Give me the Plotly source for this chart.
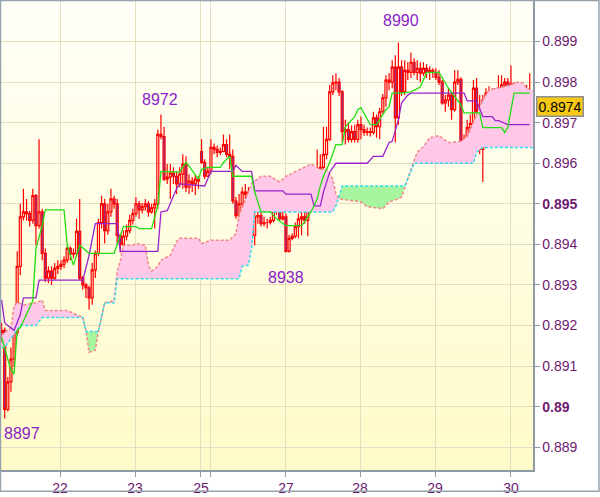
import numpy as np
import plotly.graph_objects as go

# ---------------- data (prices in pips, 1 pip = 0.0001) ----------------
close_pips = [
    8918.8, 8899.3, 8906.1, 8911.7, 8918.3, 8934.6, 8946.8, 8948.0, 8947.6, 8945.9,
    8952.0, 8944.6, 8948.0, 8937.8, 8931.7, 8933.4, 8931.7, 8934.1, 8934.6, 8935.1,
    8936.1, 8939.0, 8937.6, 8937.8, 8943.2, 8931.7, 8930.0, 8929.3, 8926.8, 8933.7,
    8937.8, 8945.4, 8950.0, 8943.4, 8948.0, 8951.2, 8950.0, 8942.2, 8940.0, 8942.0,
    8943.4, 8945.9, 8947.6, 8950.0, 8948.5, 8949.3, 8950.0, 8948.0, 8949.0, 8950.0,
    8967.1, 8966.6, 8956.1, 8956.6, 8957.6, 8956.8, 8954.9, 8957.3, 8959.8, 8954.1,
    8955.6, 8954.9, 8956.1, 8955.6, 8960.2, 8956.8, 8958.0, 8963.9, 8963.4, 8962.7,
    8962.9, 8964.6, 8962.2, 8961.7, 8950.7, 8947.1, 8950.0, 8952.9, 8952.4, 8952.9,
    8942.2, 8946.8, 8947.1, 8945.1, 8945.4, 8945.4, 8945.9, 8948.8, 8948.3, 8946.3,
    8946.8, 8938.3, 8941.5, 8942.0, 8944.4, 8946.3, 8946.8, 8945.9, 8952.0, 8955.6,
    8954.9, 8957.3, 8959.0, 8962.2, 8965.9, 8977.6, 8979.8, 8980.0, 8977.6, 8967.8,
    8968.3, 8965.9, 8967.8, 8965.9, 8969.5, 8968.3, 8967.6, 8967.8, 8967.6, 8971.2,
    8969.0, 8972.7, 8976.1, 8980.5, 8980.0, 8983.7, 8971.2, 8983.7, 8977.6, 8982.9,
    8982.4, 8984.9, 8982.4, 8983.4, 8982.2, 8983.4, 8982.4, 8982.9, 8982.4, 8981.2,
    8980.0, 8974.9, 8975.6, 8976.8, 8973.2, 8980.0, 8980.7, 8964.6, 8965.9, 8968.8,
    8969.8, 8978.5, 8972.7, 8963.4, 8975.6, 8977.3, 8977.6, 8977.3, 8977.6, 8978.5,
    8979.3, 8980.0, 8978.0, 8979.5, 8975.1, 8974.1, 8975.6, 8976.3, 8977.6, 8973.9]

high_pips = [
    8920.7, 8919.5, 8907.3, 8914.6, 8920.7, 8938.3, 8950.0, 8953.7, 8951.2, 8948.3,
    8953.7, 8952.4, 8965.9, 8948.8, 8939.0, 8934.6, 8934.6, 8935.4, 8936.1, 8936.1,
    8937.1, 8939.5, 8939.5, 8939.0, 8946.3, 8951.2, 8932.2, 8930.5, 8929.8, 8935.4,
    8938.5, 8946.3, 8952.0, 8951.2, 8950.0, 8953.7, 8952.0, 8951.2, 8942.7, 8943.4,
    8944.9, 8947.3, 8948.8, 8951.7, 8950.7, 8950.2, 8951.2, 8950.7, 8950.0, 8951.2,
    8968.3, 8972.0, 8969.0, 8959.8, 8959.8, 8959.0, 8958.0, 8959.0, 8962.2, 8961.7,
    8957.3, 8956.6, 8957.1, 8956.8, 8965.9, 8961.0, 8959.0, 8965.9, 8964.9, 8964.4,
    8963.9, 8967.1, 8965.9, 8967.1, 8963.4, 8951.7, 8952.4, 8954.1, 8954.9, 8954.1,
    8953.7, 8948.3, 8948.8, 8948.3, 8946.8, 8946.3, 8946.8, 8949.3, 8949.3, 8949.3,
    8948.8, 8947.6, 8942.4, 8942.7, 8945.4, 8947.6, 8950.5, 8952.0, 8952.4, 8956.6,
    8957.1, 8963.4, 8962.2, 8969.0, 8969.0, 8979.3, 8981.7, 8982.2, 8981.0, 8978.0,
    8970.7, 8970.2, 8969.3, 8969.5, 8970.7, 8971.5, 8969.5, 8968.8, 8968.8, 8972.7,
    8972.0, 8973.7, 8977.1, 8981.7, 8982.2, 8985.4, 8986.6, 8989.8, 8985.4, 8985.4,
    8984.9, 8987.3, 8985.9, 8985.4, 8984.9, 8984.9, 8984.4, 8983.9, 8983.4, 8983.4,
    8982.9, 8980.5, 8976.8, 8978.5, 8977.6, 8982.9, 8982.9, 8981.2, 8967.1, 8970.7,
    8972.0, 8980.5, 8981.0, 8976.8, 8976.8, 8978.5, 8979.0, 8978.5, 8978.5, 8981.7,
    8981.7, 8981.0, 8981.0, 8984.1, 8980.0, 8976.1, 8976.8, 8977.6, 8979.3, 8982.2]

low_pips = [
    8915.9, 8897.1, 8898.8, 8903.7, 8909.8, 8917.6, 8932.4, 8945.9, 8945.9, 8944.4,
    8945.1, 8939.8, 8943.9, 8936.1, 8930.7, 8930.5, 8930.0, 8931.2, 8932.7, 8933.7,
    8934.1, 8935.4, 8936.1, 8936.6, 8937.1, 8931.2, 8928.8, 8926.8, 8923.9, 8925.1,
    8931.7, 8937.1, 8943.9, 8940.2, 8942.4, 8946.8, 8948.8, 8940.2, 8938.0, 8939.0,
    8941.0, 8942.7, 8944.9, 8946.8, 8946.3, 8947.6, 8948.3, 8946.8, 8947.6, 8943.9,
    8948.8, 8965.9, 8955.6, 8954.9, 8951.2, 8954.9, 8952.4, 8954.1, 8953.7, 8952.9,
    8952.4, 8952.9, 8952.2, 8953.7, 8959.8, 8956.1, 8956.6, 8957.3, 8962.2, 8961.5,
    8962.0, 8962.7, 8961.5, 8958.5, 8950.0, 8946.3, 8946.3, 8948.8, 8951.2, 8948.8,
    8940.2, 8939.8, 8945.1, 8944.4, 8944.4, 8943.9, 8944.9, 8945.4, 8947.3, 8945.9,
    8945.9, 8938.0, 8938.0, 8941.0, 8941.5, 8941.5, 8942.2, 8945.1, 8942.0, 8949.5,
    8953.7, 8954.6, 8956.6, 8958.5, 8961.0, 8965.4, 8976.8, 8978.0, 8976.6, 8965.1,
    8964.6, 8965.1, 8965.1, 8965.1, 8965.1, 8965.9, 8966.8, 8966.8, 8966.6, 8967.1,
    8966.3, 8965.9, 8972.2, 8973.9, 8978.0, 8978.5, 8965.1, 8969.5, 8976.6, 8976.8,
    8980.5, 8981.0, 8981.7, 8980.5, 8980.0, 8981.5, 8981.0, 8980.5, 8981.0, 8980.5,
    8979.3, 8974.4, 8972.7, 8973.9, 8970.7, 8972.7, 8979.3, 8963.9, 8963.9, 8965.4,
    8967.1, 8968.3, 8971.2, 8962.2, 8955.4, 8973.2, 8976.3, 8976.3, 8976.6, 8976.6,
    8977.6, 8978.0, 8977.3, 8977.6, 8974.1, 8973.7, 8973.7, 8973.7, 8973.7, 8971.5]

# bars open at the previous close, except the first bar and the weekly gap bar
open_gaps = {0: 8918.3, 64: 8962.9}

tenkan_idx = [0, 3, 4, 5, 6, 10, 11, 13, 14, 20, 21, 23, 25, 27, 28, 36, 38, 39, 43, 44,
              48, 50, 51, 57, 59, 60, 63, 64, 66, 70, 71, 73, 74, 80, 81, 83, 86, 88, 91, 96,
              97, 99, 101, 102, 103, 105, 107, 109, 110, 113, 114, 115, 118, 120, 123, 124,
              125, 128, 131, 134, 136, 140, 143, 147, 148, 153, 154, 160, 161, 162, 164, 169]
tenkan_pips = [8917.1, 8909.0, 8908.0, 8918.8, 8919.5, 8926.1, 8939.0, 8944.6, 8948.5, 8948.5,
               8939.8, 8934.9, 8939.8, 8938.3, 8937.8, 8937.8, 8942.2, 8944.4, 8944.4, 8943.9,
               8943.9, 8949.5, 8958.0, 8957.8, 8960.2, 8959.3, 8956.1, 8958.5, 8959.0, 8959.0,
               8960.2, 8961.7, 8956.8, 8956.8, 8952.9, 8948.0, 8948.0, 8946.3, 8944.6, 8944.6,
               8945.6, 8948.0, 8951.2, 8954.4, 8956.8, 8960.2, 8964.6, 8964.6, 8969.0, 8971.5,
               8973.2, 8973.7, 8969.5, 8969.5, 8973.2, 8973.9, 8977.3, 8977.3, 8977.6, 8978.8,
               8982.4, 8982.4, 8978.5, 8974.4, 8972.4, 8972.4, 8968.8, 8968.8, 8967.6, 8968.8,
               8977.3, 8977.3]

kijun_idx = [0, 1, 2, 4, 6, 7, 11, 12, 26, 28, 30, 37, 38, 50, 51, 53, 56, 57, 65, 67,
             74, 75, 77, 80, 81, 90, 91, 99, 100, 102, 103, 105, 107, 117, 119, 122, 124, 125,
             127, 128, 130, 131, 148, 149, 152, 154, 157, 158, 159, 162, 169]
kijun_pips = [8926.3, 8920.7, 8920.0, 8918.8, 8922.7, 8926.8, 8926.8, 8931.2, 8931.2, 8937.3,
              8945.1, 8945.1, 8938.3, 8938.3, 8948.0, 8948.3, 8953.7, 8954.9, 8954.4, 8958.0,
              8958.0, 8959.5, 8958.0, 8958.0, 8953.2, 8953.2, 8952.4, 8952.4, 8949.5, 8949.5,
              8952.9, 8957.8, 8960.0, 8960.0, 8961.7, 8961.7, 8965.1, 8965.4, 8970.7, 8974.9,
              8976.8, 8977.3, 8977.3, 8975.4, 8975.4, 8971.5, 8971.5, 8970.5, 8970.5, 8969.5,
              8969.5]

cloud_idx = [0, 1, 3, 4, 5, 6, 7, 8, 11, 13, 14, 21, 26, 27, 28, 30, 31, 33, 36, 37,
             38, 39, 42, 43, 46, 47, 48, 50, 51, 54, 56, 57, 63, 64, 67, 73, 75, 76, 77, 78,
             79, 80, 81, 83, 86, 89, 91, 94, 99, 102, 104, 106, 107, 108, 109, 115, 117, 122,
             124, 127, 128, 129, 131, 132, 133, 135, 137, 140, 143, 147, 149, 151, 152, 154,
             156, 159, 163, 165, 167, 168, 170]
span_a_pips = [8917.6, 8918.3, 8919.5, 8924.9, 8925.6, 8925.4, 8925.1, 8925.2, 8925.6, 8926.3,
               8923.7, 8923.7, 8922.0, 8918.8, 8913.4, 8913.9, 8918.8, 8925.6, 8926.1, 8933.4,
               8935.9, 8939.8, 8939.8, 8940.2, 8939.8, 8934.9, 8933.4, 8934.6, 8936.1, 8937.3,
               8940.7, 8941.5, 8941.5, 8940.2, 8941.0, 8941.0, 8942.7, 8947.1, 8949.1, 8951.2,
               8953.0, 8954.9, 8955.6, 8956.8, 8956.8, 8955.4, 8956.8, 8958.0, 8959.8, 8958.5,
               8958.5, 8956.1, 8952.4, 8951.2, 8951.1, 8950.5, 8949.3, 8948.8, 8950.5, 8951.2,
               8951.7, 8954.1, 8958.5, 8960.7, 8962.7, 8964.1, 8966.3, 8966.8, 8965.1, 8965.4,
               8966.6, 8970.2, 8972.0, 8975.6, 8978.0, 8978.5, 8979.3, 8980.0, 8979.8, 8978.5,
               8977.8]
span_b_pips = [8914.6, 8914.6, 8916.8, 8917.9, 8918.9, 8920.0, 8920.0, 8920.0, 8920.0, 8922.0,
               8922.0, 8922.0, 8922.0, 8918.5, 8918.5, 8918.5, 8918.5, 8925.6, 8925.6, 8931.5,
               8931.5, 8931.5, 8931.5, 8931.5, 8931.5, 8931.5, 8931.5, 8931.5, 8931.5, 8931.5,
               8931.5, 8931.5, 8931.5, 8931.5, 8931.5, 8931.5, 8931.5, 8931.5, 8934.6, 8934.8,
               8934.9, 8939.0, 8948.0, 8948.0, 8948.0, 8948.0, 8948.0, 8948.0, 8948.0, 8948.0,
               8948.0, 8948.0, 8949.5, 8952.0, 8954.4, 8954.4, 8954.4, 8954.4, 8954.4, 8954.4,
               8954.4, 8954.4, 8958.0, 8960.0, 8960.0, 8960.0, 8960.0, 8960.0, 8960.0, 8960.0,
               8960.0, 8960.0, 8962.7, 8963.9, 8963.9, 8963.9, 8963.9, 8963.9, 8963.9, 8963.9,
               8963.9]

# extreme-price labels: (bar index, which extreme, x shift px, y shift px)
extreme_labels = [(1, "low", 17, -15), (51, "high", -1, 15), (91, "low", 0, -25), (127, "high", 3, 22)]

day_tick_pos = [18.7, 42.7, 63.8, 67.0, 91.0, 114.7, 138.7, 163.0]
day_tick_text = ["22", "23", "25", "", "27", "28", "29", "30"]
price_ticks = [0.889, 0.890, 0.891, 0.892, 0.893, 0.894, 0.895, 0.896, 0.897, 0.898, 0.899]
price_tick_text = ["0.889", "<b>0.89</b>", "0.891", "0.892", "0.893", "0.894", "<b>0.895</b>",
                   "0.896", "0.897", "0.898", "0.899"]

# ---------------- derived ----------------
P = 1e-4
close = np.array(close_pips) * P
high = np.array(high_pips) * P
low = np.array(low_pips) * P
openp = np.concatenate([[close[0]], close[:-1]])
for k, v in open_gaps.items():
    openp[k] = v * P
bars = np.arange(len(close))

# cloud with crossing points inserted for two-colour fill
cx = np.array(cloud_idx, float)
sa = np.array(span_a_pips) * P
sb = np.array(span_b_pips) * P
xs, ya, yb = [cx[0]], [sa[0]], [sb[0]]
for k in range(1, len(cx)):
    d0 = sa[k - 1] - sb[k - 1]
    d1 = sa[k] - sb[k]
    if d0 * d1 < 0:
        t = d0 / (d0 - d1)
        xc = cx[k - 1] + t * (cx[k] - cx[k - 1])
        yc = sa[k - 1] + t * (sa[k] - sa[k - 1])
        xs.append(xc); ya.append(yc); yb.append(yc)
    xs.append(cx[k]); ya.append(sa[k]); yb.append(sb[k])
xs = np.array(xs); ya = np.array(ya); yb = np.array(yb)
lo = np.minimum(ya, yb)

PINK = "#ffc8e8"
GREEN = "#a8f5a0"
fig = go.Figure()
fig.add_trace(go.Scatter(x=xs, y=lo, mode="lines", line=dict(width=0), hoverinfo="skip", showlegend=False))
fig.add_trace(go.Scatter(x=xs, y=ya, mode="lines", line=dict(width=0), fill="tonexty",
                         fillcolor=PINK, hoverinfo="skip", showlegend=False))
fig.add_trace(go.Scatter(x=xs, y=lo, mode="lines", line=dict(width=0), hoverinfo="skip", showlegend=False))
fig.add_trace(go.Scatter(x=xs, y=yb, mode="lines", line=dict(width=0), fill="tonexty",
                         fillcolor=GREEN, hoverinfo="skip", showlegend=False))
fig.add_trace(go.Scatter(x=cx, y=sa, mode="lines", line=dict(color="#f08888", width=1.5, dash="3px,2px"),
                         hoverinfo="skip", showlegend=False))
fig.add_trace(go.Scatter(x=cx, y=sb, mode="lines", line=dict(color="#30dcec", width=1.5, dash="3px,2px"),
                         hoverinfo="skip", showlegend=False))

fig.add_trace(go.Candlestick(
    x=bars, open=openp, high=high, low=low, close=close,
    increasing=dict(line=dict(color="#ff0000", width=1.2), fillcolor="rgba(255,255,255,0)"),
    decreasing=dict(line=dict(color="#ff0000", width=1.2), fillcolor="#6a45b8"),
    whiskerwidth=0, hoverinfo="skip", showlegend=False))

fig.add_trace(go.Scatter(x=kijun_idx, y=np.array(kijun_pips) * P, mode="lines",
                         line=dict(color="#9922cc", width=1.3), hoverinfo="skip", showlegend=False))
fig.add_trace(go.Scatter(x=tenkan_idx, y=np.array(tenkan_pips) * P, mode="lines",
                         line=dict(color="#22dd11", width=1.3), hoverinfo="skip", showlegend=False))

# background gradient bands
shapes = []
nb = 40
top = np.array([255, 255, 248]); bot = np.array([255, 251, 200])
for k in range(nb):
    c = top + (bot - top) * (k + 0.5) / nb
    shapes.append(dict(type="rect", xref="paper", yref="paper", x0=0, x1=1,
                       y0=1 - (k + 1) / nb, y1=1 - k / nb, layer="below",
                       fillcolor="rgb(%d,%d,%d)" % tuple(c.round()), line=dict(width=0)))
# outer frame
shapes.append(dict(type="rect", xref="paper", yref="paper", x0=-0.001, x1=1.124, y0=-0.0455, y1=1.001,
                   line=dict(color="#96a3ad", width=1.5), fillcolor="rgba(0,0,0,0)", layer="above"))

annotations = []
for idx, kind, dx, dy in extreme_labels:
    val = high[idx] if kind == "high" else low[idx]
    annotations.append(dict(x=idx, y=val, xref="x", yref="y", text="%d" % round(val * 1e4),
                            showarrow=False, xshift=dx, yshift=dy,
                            font=dict(family="Liberation Sans, Arial", size=16, color="#8a22c8")))
annotations.append(dict(x=1, xref="paper", y=close[-1], yref="y", xanchor="left", xshift=3,
                        text="%.4f" % close[-1], showarrow=False, bgcolor="#f7c815",
                        bordercolor="#8f8f8f", borderwidth=1.5, borderpad=1,
                        font=dict(family="Liberation Sans, Arial", size=14, color="#000000")))

GRID = "#e2dec0"
AX = "#8e9ba6"
TICKC = "#6e1a6e"
fig.update_layout(
    width=600, height=497,
    margin=dict(l=1, r=67, t=1, b=23),
    paper_bgcolor="white", plot_bgcolor="white",
    shapes=shapes, annotations=annotations,
    showlegend=False, hovermode=False, boxgap=0.08,
    xaxis=dict(range=[-0.18, 170.06], tickvals=day_tick_pos, ticktext=day_tick_text,
               showgrid=True, gridcolor=GRID, gridwidth=1, zeroline=False,
               showline=True, linecolor=AX, linewidth=1.5, ticks="outside", ticklen=5,
               tickcolor=AX, tickfont=dict(family="Liberation Sans, Arial", size=14, color=TICKC),
               rangeslider=dict(visible=False), fixedrange=True),
    yaxis=dict(range=[0.888438, 0.90000], side="right", tickvals=price_ticks, ticktext=price_tick_text,
               showgrid=True, gridcolor=GRID, gridwidth=1, zeroline=False,
               showline=True, linecolor=AX, linewidth=1.5, ticks="outside", ticklen=5,
               tickcolor=AX, tickfont=dict(family="Liberation Sans, Arial", size=14, color=TICKC),
               fixedrange=True),
)

fig.write_html("out.html", config={"displayModeBar": False, "staticPlot": True},
               post_script="document.body.style.margin='0';document.body.style.padding='0';"
                           "document.body.style.overflow='hidden';")
